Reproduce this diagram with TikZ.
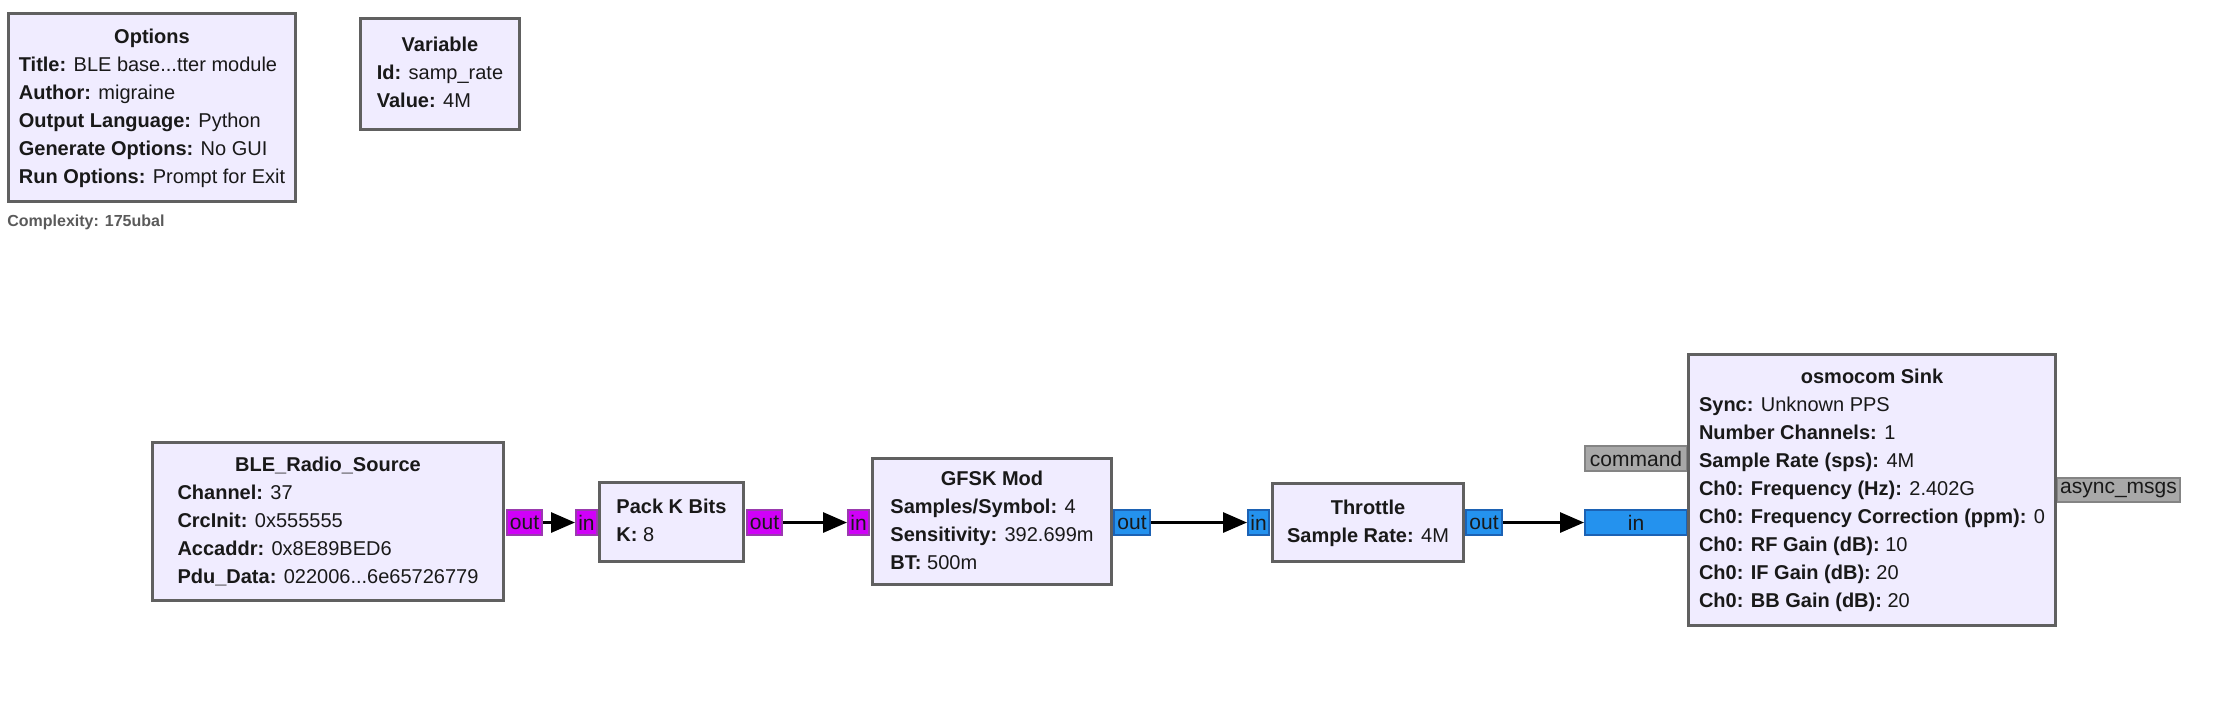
\documentclass[tikz,border=0pt]{standalone}
\usepackage{fontspec}
\setmainfont{Liberation Sans}
\usetikzlibrary{arrows.meta}
\definecolor{blockfill}{HTML}{F0ECFF}
\definecolor{blockdraw}{HTML}{606060}
\definecolor{purplefill}{HTML}{D000F8}
\definecolor{purpledraw}{HTML}{9A3AAE}
\definecolor{bluefill}{HTML}{2492EE}
\definecolor{bluedraw}{HTML}{1C62B4}
\definecolor{msgfill}{HTML}{A8A8A8}
\definecolor{msgdraw}{HTML}{848484}
\definecolor{cplx}{HTML}{5A5A5A}
\newcommand{\blockfont}{\fontsize{10}{14}\selectfont}
\newcommand{\portfont}{\fontsize{10.5}{12}\selectfont}
\tikzset{
  block/.style={draw=blockdraw, line width=1.5pt, fill=blockfill, inner sep=0pt, font=\blockfont, text=black!90},
  portbox/.style={line width=1pt, inner sep=0pt, font=\portfont, minimum height=12.5pt, text=black!90},
  byteport/.style={portbox, draw=purpledraw, fill=purplefill},
  cplxport/.style={portbox, draw=bluedraw, fill=bluefill},
  msgport/.style={portbox, draw=msgdraw, fill=msgfill},
  conn/.style={line width=1.5pt, black, -{Triangle[length=12pt,width=10pt]}}
}
\begin{document}
\begin{tikzpicture}[x=0.5pt,y=-0.5pt]
\useasboundingbox (0,0) rectangle (2226,720);

% ports (drawn first, blocks overlap them)
\node[byteport, minimum width=17.5pt] (bleout) at (524.5,522.5) {out};
\node[byteport, minimum width=10.5pt] (packin) at (586.5,522.5) {in};
\node[byteport, minimum width=17.5pt] (packout) at (764.5,522.5) {out};
\node[byteport, minimum width=10.5pt] (gfskin) at (858.5,522.5) {in};
\node[cplxport, minimum width=18pt] (gfskout) at (1132,522.5) {out};
\node[cplxport, minimum width=10.5pt] (thrin) at (1258.5,522.5) {in};
\node[cplxport, minimum width=18pt] (throut) at (1484,522.5) {out};
\node[cplxport, minimum width=51pt] (osmoin) at (1636,522.5) {in};
\node[msgport, minimum width=51pt] (osmocmd) at (1636,458.5) {command};
\node[msgport, minimum width=61.5pt, minimum height=12pt] (osmoasync) at (2118.5,490) {async\_msgs};

% blocks
\node[block, minimum width=143.5pt, minimum height=94pt] (options) at (152,107.5) {%
\begin{tabular}{@{}l@{}}
\multicolumn{1}{@{}c@{}}{\textbf{Options}}\\
\textbf{Title:} BLE base...tter module\\
\textbf{Author:} migraine\\
\textbf{Output Language:} Python\\
\textbf{Generate Options:} No GUI\\
\textbf{Run Options:} Prompt for Exit
\end{tabular}};

\node[block, minimum width=79.5pt, minimum height=55.5pt] (variable) at (440,74) {%
\begin{tabular}{@{}l@{}}
\multicolumn{1}{@{}c@{}}{\textbf{Variable}}\\
\textbf{Id:} samp\_rate\\
\textbf{Value:} 4M
\end{tabular}};

\node[anchor=west, inner sep=0pt, font=\fontsize{8}{10}\selectfont\bfseries, text=cplx] (complexity) at (7,222) {Complexity: 175ubal};

\node[block, minimum width=175.5pt, minimum height=79pt] (ble) at (328,521.5) {%
\begin{tabular}{@{}l@{}}
\multicolumn{1}{@{}c@{}}{\textbf{BLE\_Radio\_Source}}\\
\textbf{Channel:} 37\\
\textbf{CrcInit:} 0x555555\\
\textbf{Accaddr:} 0x8E89BED6\\
\textbf{Pdu\_Data:} 022006...6e65726779
\end{tabular}};

\node[block, minimum width=72pt, minimum height=39.5pt] (pack) at (671.5,522) {%
\begin{tabular}{@{}l@{}}
\multicolumn{1}{@{}c@{}}{\textbf{Pack K Bits}}\\
\textbf{K:} 8
\end{tabular}};

\node[block, minimum width=119.5pt, minimum height=63pt] (gfsk) at (992,521.5) {%
\begin{tabular}{@{}l@{}}
\multicolumn{1}{@{}c@{}}{\textbf{GFSK Mod}}\\
\textbf{Samples/Symbol:} 4\\
\textbf{Sensitivity:} 392.699m\\
\textbf{BT:} 500m
\end{tabular}};

\node[block, minimum width=95.5pt, minimum height=39pt] (throttle) at (1368,522.5) {%
\begin{tabular}{@{}l@{}}
\multicolumn{1}{@{}c@{}}{\textbf{Throttle}}\\
\textbf{Sample Rate:} 4M
\end{tabular}};

\node[block, minimum width=183.5pt, minimum height=135.5pt] (osmo) at (1872,490) {%
\begin{tabular}{@{}l@{}}
\multicolumn{1}{@{}c@{}}{\textbf{osmocom Sink}}\\
\textbf{Sync:} Unknown PPS\\
\textbf{Number Channels:} 1\\
\textbf{Sample Rate (sps):} 4M\\
\textbf{Ch0: Frequency (Hz):} 2.402G\\
\textbf{Ch0: Frequency Correction (ppm):} 0\\
\textbf{Ch0: RF Gain (dB):} 10\\
\textbf{Ch0: IF Gain (dB):} 20\\
\textbf{Ch0: BB Gain (dB):} 20
\end{tabular}};

% connections
\draw[conn] (bleout.east) -- (packin.west);
\draw[conn] (packout.east) -- (gfskin.west);
\draw[conn] (gfskout.east) -- (thrin.west);
\draw[conn] (throut.east) -- (osmoin.west);
\end{tikzpicture}
\end{document}
